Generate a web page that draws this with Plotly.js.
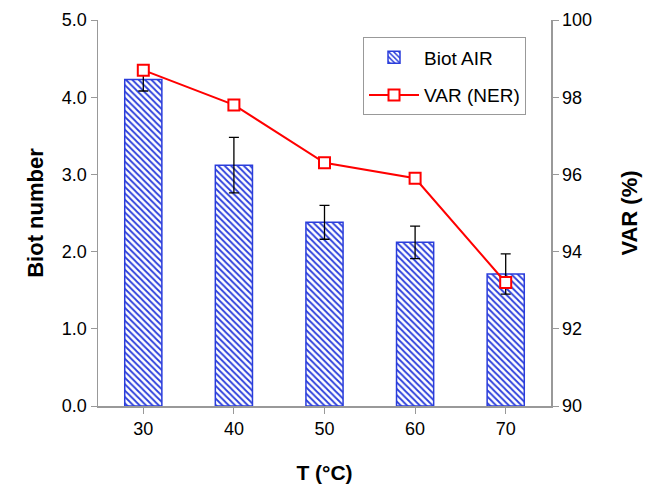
<!DOCTYPE html>
<html>
<head>
<meta charset="utf-8">
<script src="https://cdn.plot.ly/plotly-3.0.1.min.js"></script>
<style>html,body{margin:0;padding:0;background:#fff;}#chart{width:651px;height:484px;}</style>
</head>
<body>
<div id="chart"></div>
<script>
const temperatures = [30, 40, 50, 60, 70];
const biotAir = [4.23, 3.12, 2.38, 2.12, 1.71];
const biotErr = [0.15, 0.36, 0.22, 0.21, 0.26];
const varNer = [98.7, 97.8, 96.3, 95.9, 93.2];
const leftTicks = [0, 1, 2, 3, 4, 5];
const leftTickText = ['0.0', '1.0', '2.0', '3.0', '4.0', '5.0'];
const rightTicks = [90, 92, 94, 96, 98, 100];
const xTicks = [30, 40, 50, 60, 70];

const fam = 'Liberation Sans, Arial, sans-serif';
const font = {family: fam, size: 18, color: '#000'};
const axisGray = '#999';

const traces = [
  {
    type: 'bar', name: 'Biot AIR', x: temperatures, y: biotAir, width: 4.1,
    legendgroup: 'a',
    marker: {
      color: '#ffffff',
      line: {color: '#2a3ddb', width: 1.5},
      pattern: {shape: '\\', fgcolor: '#2a3ddb', bgcolor: '#ffffff', size: 4.5, solidity: 0.4, fillmode: 'replace'}
    },
    error_y: {type: 'data', array: biotErr, visible: true, color: '#000', thickness: 1.3, width: 5}
  },
  {
    type: 'scatter', mode: 'lines+markers', name: 'VAR (NER)', x: temperatures, y: varNer, yaxis: 'y2',
    legendgroup: 'b',
    line: {color: '#ff0000', width: 2},
    marker: {symbol: 'square', size: 11, color: '#ffffff', line: {color: '#ff0000', width: 2}}
  }
];

const layout = {
  width: 651, height: 484,
  margin: {l: 98, r: 100, t: 20, b: 78},
  paper_bgcolor: '#fff', plot_bgcolor: '#fff',
  font: font,
  showlegend: true,
  legend: {
    x: 0.585, y: 0.955, xanchor: 'left', yanchor: 'top',
    bordercolor: '#999', borderwidth: 1, bgcolor: '#fff',
    font: {family: fam, size: 19, color: '#000'},
    traceorder: 'grouped', tracegroupgap: 10, itemwidth: 50
  },
  xaxis: {
    range: [25, 75], tickvals: xTicks, ticktext: xTicks.map(String),
    showline: true, linecolor: axisGray, linewidth: 1.5, ticks: 'outside', tickcolor: axisGray, ticklen: 6,
    showgrid: false, zeroline: false, tickfont: font,
    title: {text: '<b>T (°C)</b>', font: {family: fam, size: 21}, standoff: 28}
  },
  yaxis: {
    range: [0, 5], tickvals: leftTicks, ticktext: leftTickText,
    showline: true, linecolor: axisGray, linewidth: 1.5, ticks: 'outside', tickcolor: axisGray, ticklen: 6,
    showgrid: false, zeroline: false, tickfont: font,
    title: {text: '<b>Biot number</b>', font: {family: fam, size: 22}, standoff: 12}
  },
  yaxis2: {
    overlaying: 'y', side: 'right', range: [90, 100], tickvals: rightTicks,
    showline: true, linecolor: axisGray, linewidth: 1.5, ticks: 'outside', tickcolor: axisGray, ticklen: 6,
    showgrid: false, zeroline: false, tickfont: font,
    title: {text: '<b>VAR (%)</b>', font: {family: fam, size: 22}, standoff: 30}
  }
};

Plotly.newPlot('chart', traces, layout, {displayModeBar: false, staticPlot: true});
</script>
</body>
</html>
